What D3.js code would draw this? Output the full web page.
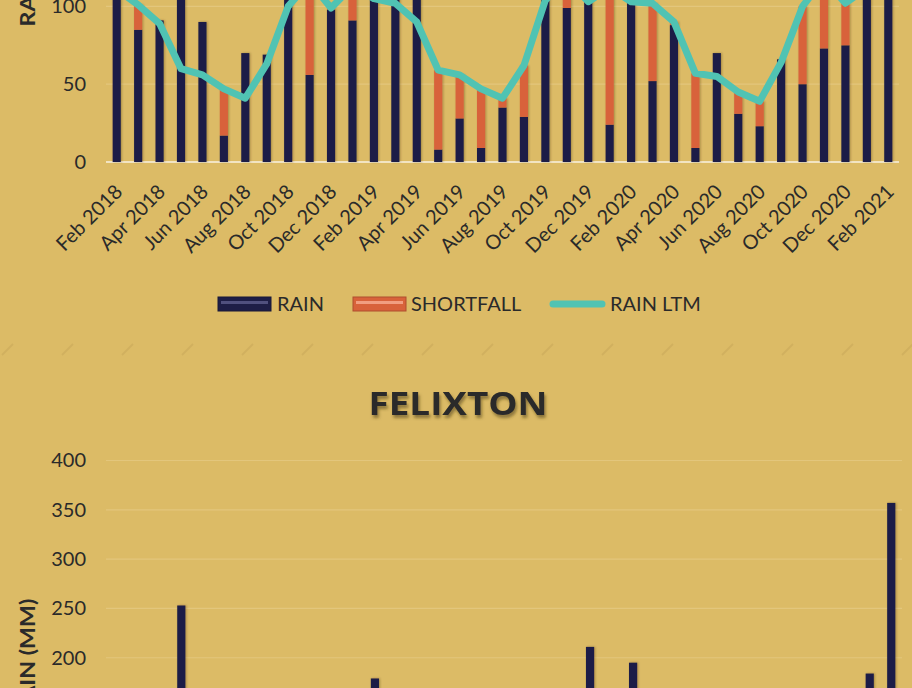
<!DOCTYPE html>
<html>
<head>
<meta charset="utf-8">
<script src="https://cdn.jsdelivr.net/npm/d3@7"></script>
<style>
  html, body { margin: 0; padding: 0; background: #DCBB66; overflow: hidden; }
  svg { display: block; }
  text { font-family: Lato, "Open Sans", sans-serif; fill: #2a2a2a; }
</style>
</head>
<body>
<svg id="chart" width="912" height="688"></svg>
<script>
// Two monthly rainfall charts (the lower one is FELIXTON), stacked on one page.
const months = [
  'Feb 2018', 'Mar 2018', 'Apr 2018', 'May 2018', 'Jun 2018', 'Jul 2018', 'Aug 2018', 'Sep 2018',
  'Oct 2018', 'Nov 2018', 'Dec 2018', 'Jan 2019', 'Feb 2019', 'Mar 2019', 'Apr 2019', 'May 2019',
  'Jun 2019', 'Jul 2019', 'Aug 2019', 'Sep 2019', 'Oct 2019', 'Nov 2019', 'Dec 2019', 'Jan 2020',
  'Feb 2020', 'Mar 2020', 'Apr 2020', 'May 2020', 'Jun 2020', 'Jul 2020', 'Aug 2020', 'Sep 2020',
  'Oct 2020', 'Nov 2020', 'Dec 2020', 'Jan 2021', 'Feb 2021'
];
const tickMonths = months.filter((d, i) => i % 2 === 0);
const seriesNames = ['RAIN', 'SHORTFALL', 'RAIN LTM'];

// upper chart (only its lower part is in view)
const rainTop = [150, 85, 91, 128, 90, 17, 70, 69, 135, 56, 98, 91, 140, 118, 125, 8, 28, 9, 35, 29, 130, 99,
  160, 24, 115, 52, 88, 9, 70, 31, 23, 66, 50, 73, 75, 140, 150];
const shortfallTop = [0, 16, 0, 0, 0, 30, 0, 0, 0, 60, 1, 22, 0, 0, 0, 51, 28, 38, 6, 33, 0, 19,
  0, 88, 0, 50, 2, 48, 0, 14, 16, 0, 50, 45, 27, 0, 0];
const ltmTop = [111, 101, 89, 60, 56, 47, 41, 63, 100, 116, 99, 113, 105, 102, 90, 59, 56, 47, 41, 62, 104, 118,
  103, 112, 103, 102, 90, 57, 55, 45, 39, 64, 100, 118, 102, 112, 108];
const ticksTop = [0, 50, 100, 150, 200, 250];

// FELIXTON (only the tallest bars reach into view)
const rainBottom = [120, 95, 60, 253, 40, 10, 25, 30, 90, 70, 150, 110, 179, 130, 80, 20, 15, 12, 30, 25, 120, 100,
  211, 60, 195, 90, 75, 10, 45, 20, 15, 40, 60, 95, 110, 184, 357];
const ltmBottom = [140, 125, 100, 75, 60, 50, 45, 60, 90, 110, 120, 135, 140, 125, 100, 75, 60, 50, 45, 60, 90, 110,
  120, 135, 140, 125, 100, 75, 60, 50, 45, 60, 90, 110, 120, 135, 140];
const ticksBottom = [0, 50, 100, 150, 200, 250, 300, 350, 400];

(function () {
  const COL_RAIN = '#1E1E46';
  const COL_SHORT = '#D8623A';
  const COL_LTM = '#50C3B3';
  const COL_GRID = '#E3C67C';
  const COL_AXIS = '#F2E4C2';

  const svg = d3.select('#chart');
  const defs = svg.append('defs');
  defs.append('filter').attr('id', 'barShadow').attr('x', '-50%').attr('width', '200%')
    .append('feDropShadow').attr('dx', 1).attr('dy', 0).attr('stdDeviation', 0.8)
    .attr('flood-color', '#3a2e10').attr('flood-opacity', 0.35);
  defs.append('filter').attr('id', 'titleShadow')
    .append('feDropShadow').attr('dx', 1.5).attr('dy', 3).attr('stdDeviation', 1.6)
    .attr('flood-color', '#4a3b14').attr('flood-opacity', 0.55);

  svg.append('rect').attr('width', 912).attr('height', 688).attr('fill', '#DCBB66');

  function drawChart(opts) {
    const x = d3.scaleBand().domain(months).range(opts.xRange).paddingInner(0.62).paddingOuter(0.31);
    const y = d3.scaleLinear().domain([0, d3.max(opts.ticks)]).range(opts.yRange);
    const bw = x.bandwidth();
    const g = svg.append('g');

    // gridlines
    g.append('g').selectAll('line').data(opts.ticks.filter((t) => t > 0)).join('line')
      .attr('x1', opts.xRange[0]).attr('x2', opts.xRange[1])
      .attr('y1', (d) => y(d)).attr('y2', (d) => y(d))
      .attr('stroke', COL_GRID).attr('stroke-width', 1.2);

    // y axis labels
    const yAxis = g.append('g').attr('transform', `translate(${opts.xRange[0]},0)`)
      .call(d3.axisLeft(y).tickValues(opts.ticks).tickSize(0).tickPadding(20));
    yAxis.select('.domain').remove();
    yAxis.selectAll('text').style('font-size', '20px').style('font-family', 'Lato, sans-serif').attr('fill', '#2a2a2a');

    // x axis
    const xAxis = g.append('g').attr('transform', `translate(0,${y(0)})`)
      .call(d3.axisBottom(x).tickValues(tickMonths).tickSize(0));
    xAxis.select('.domain').attr('stroke', COL_AXIS).attr('stroke-width', 2.2)
      .attr('d', `M${opts.xRange[0]},0H${opts.xRange[1]}`);
    xAxis.selectAll('text')
      .style('font-size', '20px').style('font-family', 'Lato, sans-serif').style('text-anchor', 'end')
      .attr('fill', '#262626')
      .attr('x', 0).attr('y', 0).attr('dy', '0.35em')
      .attr('transform', 'translate(2,26) rotate(-45)');

    // stacked bars
    const bars = g.append('g').attr('filter', 'url(#barShadow)');
    bars.selectAll('rect.rain').data(opts.rain).join('rect').attr('class', 'rain')
      .attr('x', (d, i) => x(months[i])).attr('width', bw)
      .attr('y', (d) => y(d)).attr('height', (d) => y(0) - y(d))
      .attr('fill', COL_RAIN);
    bars.selectAll('rect.short').data(opts.shortfall).join('rect').attr('class', 'short')
      .attr('x', (d, i) => x(months[i])).attr('width', bw)
      .attr('y', (d, i) => y(opts.rain[i] + d)).attr('height', (d, i) => y(opts.rain[i]) - y(opts.rain[i] + d))
      .attr('fill', COL_SHORT);

    // long-term mean line
    const line = d3.line().x((d, i) => x(months[i]) + bw / 2).y((d) => y(d));
    g.append('path').datum(opts.ltm).attr('d', line)
      .attr('fill', 'none').attr('stroke', COL_LTM).attr('stroke-width', 7)
      .attr('stroke-linejoin', 'round').attr('stroke-linecap', 'round');

    // y axis title
    const cy = (opts.yRange[0] + opts.yRange[1]) / 2;
    g.append('text').attr('transform', `translate(28,${cy}) rotate(-90)`)
      .attr('text-anchor', 'middle').attr('dy', '0.35em')
      .style('font-size', '20px').style('font-weight', 'bold').attr('fill', '#111')
      .attr('textLength', 118).attr('lengthAdjust', 'spacingAndGlyphs')
      .text('RAIN (MM)');
    return g;
  }

  drawChart({
    xRange: [106, 899], yRange: [162, -227], ticks: ticksTop,
    rain: rainTop, shortfall: shortfallTop, ltm: ltmTop
  });

  // legend for the upper chart
  const legend = svg.append('g').attr('transform', 'translate(0,304)');
  const legX = [218, 353, 550];
  const legTextX = [277, 411, 610];
  seriesNames.forEach((name, i) => {
    if (i < 2) {
      const c = i === 0 ? COL_RAIN : COL_SHORT;
      legend.append('rect').attr('x', legX[i]).attr('y', -7).attr('width', 53).attr('height', 14)
        .attr('fill', c).attr('stroke', d3.color(c).darker(0.6));
      legend.append('rect').attr('x', legX[i] + 3).attr('y', -3).attr('width', 47).attr('height', 3)
        .attr('fill', i === 0 ? '#5d5d8c' : '#F7AE92').attr('opacity', 0.8);
    } else {
      legend.append('line').attr('x1', legX[i] + 3).attr('x2', legX[i] + 52).attr('y1', 0).attr('y2', 0)
        .attr('stroke', COL_LTM).attr('stroke-width', 7).attr('stroke-linecap', 'round');
    }
    legend.append('text').attr('x', legTextX[i]).attr('y', 0).attr('dy', '0.36em')
      .style('font-size', '20px').attr('fill', '#262626').text(name);
  });

  // faint hatch marks along the chart border
  svg.append('g').selectAll('line').data(d3.range(2, 912, 60)).join('line')
    .attr('x1', (d) => d).attr('y1', 355).attr('x2', (d) => d + 11).attr('y2', 344)
    .attr('stroke', '#C9A85A').attr('stroke-width', 2).attr('opacity', 0.55);

  // FELIXTON
  svg.append('text').attr('x', 458).attr('y', 403).attr('dy', '0.36em').attr('text-anchor', 'middle')
    .attr('filter', 'url(#titleShadow)')
    .style('font-family', '"Open Sans", Lato, sans-serif').style('font-size', '33px').style('font-weight', 'bold')
    .attr('fill', '#0d0d0d').attr('textLength', 179).attr('lengthAdjust', 'spacingAndGlyphs')
    .text('FELIXTON');

  const shortfallBottom = rainBottom.map((r, i) => Math.max(0, ltmBottom[i] - r));
  drawChart({
    xRange: [106, 902], yRange: [855, 460.5], ticks: ticksBottom,
    rain: rainBottom, shortfall: shortfallBottom, ltm: ltmBottom
  });
})();
</script>
</body>
</html>
